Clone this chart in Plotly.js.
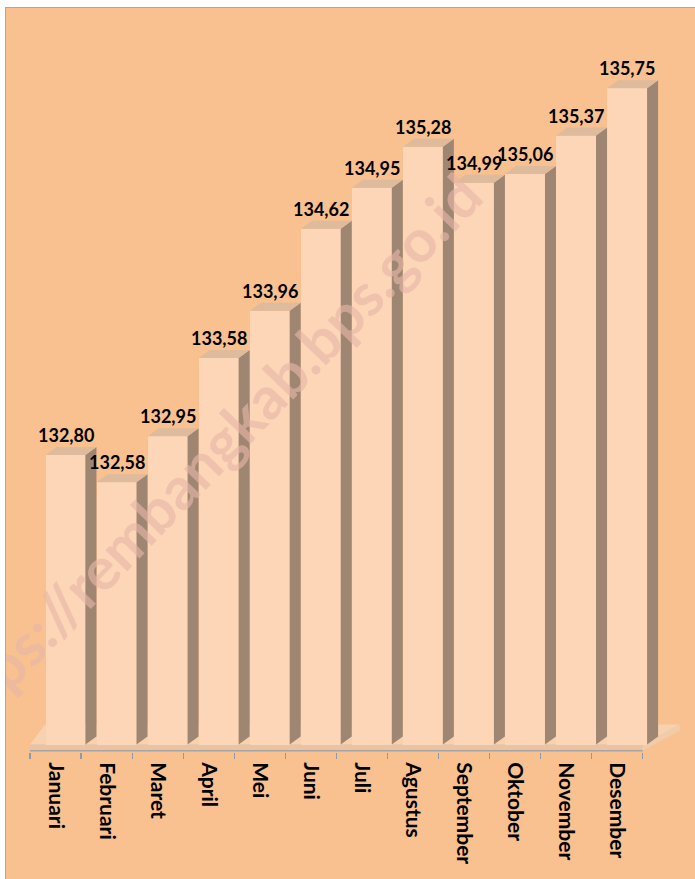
<!DOCTYPE html>
<html><head><meta charset="utf-8">
<script src="https://cdn.plot.ly/plotly-3.0.1.min.js"></script>
<style>
html,body{margin:0;padding:0;background:#fff;width:695px;height:879px;overflow:hidden}
#frame{position:absolute;left:5px;top:7px;width:690px;height:872px;background:#a8a8a8}
#chart{position:absolute;left:6px;top:8px;width:689px;height:871px}
</style></head><body>
<div id="frame"></div><div id="chart"></div>
<script>
// ---- data ----
const months = ["Januari","Februari","Maret","April","Mei","Juni","Juli","Agustus","September","Oktober","November","Desember"];
const values = [132.80,132.58,132.95,133.58,133.96,134.62,134.95,135.28,134.99,135.06,135.37,135.75];
const valueLabels = values.map(v => v.toFixed(2).replace('.', ','));
const watermark = "https://rembangkab.bps.go.id";

// ---- geometry / style ----
const W = 689, H = 871;
const margin = {l: 24, r: 14, t: 12, b: 127};
const xRange = [-0.5, 12.25];
const yRange = [130.41, 136.30];
const floorBottom = 130.42, barBase = 130.47;
const plotW = W - margin.l - margin.r, plotH = H - margin.t - margin.b;
const ux = plotW / (xRange[1] - xRange[0]);
const uy = plotH / (yRange[1] - yRange[0]);
const barOffset = -0.194, barWidth = 0.78;
const dx = 11 / ux, dy = 8 / uy;

const idx = months.map((_, i) => i);
const first = -0.5, last = months.length - 0.5;

// front faces
const frontTrace = {
  type: 'bar', x: idx, y: values.map(v => v - barBase), base: barBase,
  offset: barOffset, width: barWidth,
  marker: {color: '#FDD6B7', line: {width: 0}}, hoverinfo: 'skip'
};
// side and top faces
const sx = [], sy = [], tx = [], ty = [];
values.forEach((v, i) => {
  const xl = i + barOffset, xr = xl + barWidth;
  sx.push(xr, xr, xr + dx, xr + dx, xr, null);
  sy.push(barBase, v, v + dy, barBase + dy, barBase, null);
  tx.push(xl, xr, xr + dx, xl + dx, xl, null);
  ty.push(v, v, v + dy, v + dy, v, null);
});
const sideTrace = {type: 'scatter', mode: 'lines', x: sx, y: sy, fill: 'toself',
  fillcolor: '#9E8673', line: {width: 0, color: 'rgba(0,0,0,0)'}, hoverinfo: 'skip', showlegend: false};
const topTrace = {type: 'scatter', mode: 'lines', x: tx, y: ty, fill: 'toself',
  fillcolor: '#DDBB9C', line: {width: 0, color: 'rgba(0,0,0,0)'}, hoverinfo: 'skip', showlegend: false};

// floor
const fxR = 37 / ux, fxL = 15 / ux, fy = 20 / uy;
const p = (x, y) => x + ',' + y;
const shapes = [
  {type: 'path', layer: 'below', xref: 'x', yref: 'y', line: {width: 0},
   fillcolor: '#F7D2B0',
   path: 'M' + p(first, barBase) + 'L' + p(last, barBase) + 'L' + p(last + fxR, barBase + fy) + 'L' + p(first + fxL, barBase + fy) + 'Z'},
  {type: 'path', layer: 'below', xref: 'x', yref: 'y', line: {width: 0},
   fillcolor: '#E9C3A3',
   path: 'M' + p(first, floorBottom) + 'L' + p(last, floorBottom) + 'L' + p(last, barBase) + 'L' + p(first, barBase) + 'Z'},
  {type: 'path', layer: 'below', xref: 'x', yref: 'y', line: {width: 0},
   fillcolor: '#F1CCAA',
   path: 'M' + p(last, floorBottom) + 'L' + p(last + fxR, floorBottom + fy) + 'L' + p(last + fxR, barBase + fy) + 'L' + p(last, barBase) + 'Z'},
  {type: 'line', layer: 'above', xref: 'x', yref: 'y', x0: first, x1: last, y0: floorBottom, y1: floorBottom,
   line: {color: '#A3A4A6', width: 1.5}}
];

const annotations = values.map((v, i) => ({
  x: i + barOffset + barWidth / 2, y: v, xref: 'x', yref: 'y',
  text: valueLabels[i], showarrow: false, yshift: 20, yanchor: 'middle', xanchor: 'center',
  font: {family: 'Lato, sans-serif', size: 18, color: '#000', weight: 700}
}));
annotations.push({
  xref: 'paper', yref: 'paper', x: 0.270, y: 0.402, xanchor: 'center', yanchor: 'middle',
  text: watermark, showarrow: false,
  textangle: -46, font: {family: 'Lato, sans-serif', size: 59, color: 'rgba(230,182,166,0.62)', weight: 700}
});

const layout = {
  width: W, height: H, margin: margin,
  paper_bgcolor: '#F9C090', plot_bgcolor: 'rgba(0,0,0,0)',
  showlegend: false, bargap: 0,
  xaxis: {range: xRange, tickmode: 'array', tickvals: idx, ticktext: months,
    tickangle: 90, ticks: 'outside', ticklen: 5, tickcolor: 'rgba(0,0,0,0)',
    tickfont: {family: 'Lato, sans-serif', size: 21, color: '#000', weight: 700},
    showgrid: false, zeroline: false, showline: false, fixedrange: true,
    minor: {tick0: -0.5, dtick: 1, ticks: 'outside', ticklen: 6, tickwidth: 1.2, tickcolor: '#8E9AA6', showgrid: false}},
  yaxis: {range: yRange, visible: false, showgrid: false, zeroline: false, fixedrange: true},
  shapes: shapes, annotations: annotations
};

Plotly.newPlot('chart', [frontTrace, sideTrace, topTrace], layout, {displayModeBar: false, staticPlot: true});
</script>
</body></html>
